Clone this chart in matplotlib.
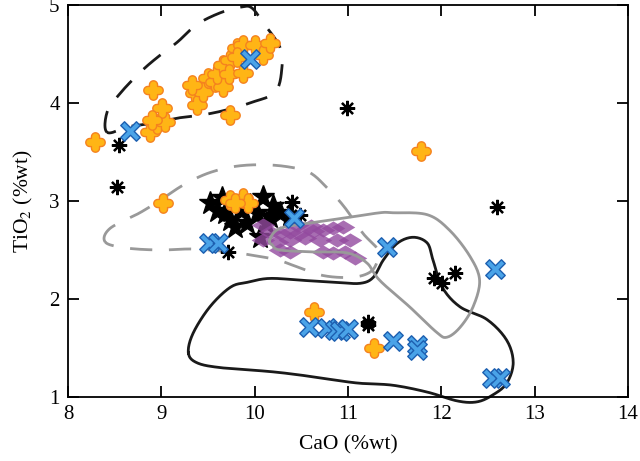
import numpy as np
import matplotlib
matplotlib.use("Agg")
import matplotlib.pyplot as plt
from matplotlib.path import Path

plt.rcParams['font.family'] = ['Liberation Serif', 'DejaVu Serif']
plt.rcParams['mathtext.fontset'] = 'stix'

# ---------------- data ----------------
orange_x = [8.29, 8.88, 8.95, 9.04, 8.91, 9.01, 8.90, 9.36, 9.38, 9.45, 9.50, 9.58, 9.66, 9.60,
            9.66, 9.74, 9.72, 9.81, 9.88, 10.00, 10.09, 10.16, 9.88, 9.81, 9.74, 9.33,
            9.74, 9.88, 9.93, 9.79, 9.02, 11.78, 10.64, 11.28]
orange_y = [3.60, 3.70, 3.79, 3.81, 4.13, 3.95, 3.83, 4.10, 3.98, 4.11, 4.26, 4.21, 4.16, 4.30,
            4.39, 4.44, 4.30, 4.56, 4.59, 4.59, 4.49, 4.61, 4.31, 4.47, 3.88, 4.18,
            3.01, 3.03, 2.98, 2.98, 2.98, 3.51, 1.87, 1.50]

blue_x = [8.66, 9.95, 9.51, 9.61, 10.42, 11.42, 12.58, 10.58, 10.77, 10.86, 10.91, 11.00,
          11.48, 11.74, 11.74, 12.54, 12.63]
blue_y = [3.71, 4.45, 2.57, 2.57, 2.83, 2.53, 2.31, 1.71, 1.70, 1.68, 1.67, 1.69,
          1.57, 1.53, 1.48, 1.19, 1.19]

ast_x = [8.55, 8.53, 10.99, 12.60, 10.40, 9.71, 11.92, 12.01, 12.15, 11.21, 11.21, 10.49]
ast_y = [3.57, 3.14, 3.95, 2.94, 2.99, 2.48, 2.21, 2.16, 2.27, 1.77, 1.73, 2.86]

star_x = [9.52, 9.65, 10.09, 9.74, 9.92, 10.06, 10.16, 10.27, 10.38, 10.03, 9.84, 9.68,
          9.95, 9.79, 10.20, 9.60, 10.12]
star_y = [2.98, 3.03, 3.04, 2.81, 2.78, 2.63, 2.84, 2.88, 2.86, 2.88, 2.91, 2.88,
          2.96, 2.73, 2.95, 2.90, 2.78]

purple_x = [10.09, 10.16, 10.27, 10.38, 10.49, 10.63, 10.73, 10.84, 10.95, 11.02, 10.09, 10.24,
            10.38, 10.54, 10.70, 10.27, 10.38, 10.73, 10.84, 10.97, 11.08, 10.45, 10.60, 10.88]
purple_y = [2.76, 2.68, 2.67, 2.68, 2.67, 2.69, 2.70, 2.72, 2.73, 2.60, 2.60, 2.58,
            2.60, 2.62, 2.60, 2.50, 2.48, 2.48, 2.47, 2.48, 2.42, 2.76, 2.74, 2.60]

# field outlines
bdash_x = [8.42, 8.42, 8.56, 8.77, 8.95, 9.17, 9.38, 9.63, 9.86, 9.97, 10.09, 10.27, 10.29,
           10.22, 9.98, 9.70, 9.45, 9.20, 8.95, 8.66, 8.42]
bdash_y = [3.70, 3.91, 4.10, 4.31, 4.46, 4.62, 4.80, 4.92, 4.98, 4.97, 4.82, 4.57, 4.34,
           4.11, 4.01, 3.93, 3.88, 3.85, 3.80, 3.76, 3.70]

gdash_x = [8.40, 8.45, 8.77, 8.99, 9.23, 9.49, 9.77, 10.06, 10.35, 10.59, 10.78, 10.96, 11.16,
           11.32, 11.30, 11.21, 11.02, 10.73, 10.45, 10.24, 9.95, 9.74, 9.34, 8.99, 8.63, 8.40]
gdash_y = [2.58, 2.72, 2.88, 3.01, 3.16, 3.28, 3.35, 3.37, 3.35, 3.29, 3.13, 2.94, 2.67,
           2.50, 2.35, 2.26, 2.22, 2.24, 2.33, 2.40, 2.45, 2.48, 2.51, 2.50, 2.52, 2.58]

gsol_x = [10.16, 10.27, 10.63, 10.99, 11.34, 11.48, 11.85, 12.09, 12.31, 12.41, 12.34, 12.20,
          12.06, 11.95, 11.66, 11.34, 11.20, 10.99, 10.63, 10.27, 10.19, 10.16]
gsol_y = [2.60, 2.72, 2.78, 2.83, 2.88, 2.88, 2.86, 2.70, 2.43, 2.19, 1.92, 1.71,
          1.61, 1.66, 1.92, 2.19, 2.37, 2.47, 2.48, 2.50, 2.55, 2.60]

bsol_x = [9.29, 9.34, 9.52, 9.74, 9.92, 10.16, 10.52, 10.88, 11.13, 11.27, 11.38, 11.53, 11.70,
          11.85, 11.91, 12.01, 12.20, 12.49, 12.70, 12.77, 12.70, 12.55, 12.38, 12.17, 11.85,
          11.48, 11.13, 10.88, 10.52, 10.16, 9.63, 9.38, 9.29]
bsol_y = [1.45, 1.65, 1.92, 2.12, 2.17, 2.21, 2.19, 2.17, 2.16, 2.22, 2.40, 2.57, 2.63,
          2.57, 2.40, 2.12, 1.92, 1.79, 1.58, 1.35, 1.14, 1.02, 0.95, 0.96, 1.05,
          1.12, 1.14, 1.17, 1.22, 1.26, 1.30, 1.35, 1.45]


def smooth_closed(xs, ys, n=12):
    p = np.column_stack([xs[:-1], ys[:-1]])
    m = len(p)
    out = []
    for i in range(m):
        p0, p1, p2, p3 = p[(i - 1) % m], p[i], p[(i + 1) % m], p[(i + 2) % m]
        t = np.linspace(0, 1, n, endpoint=False)[:, None]
        seg = 0.5 * ((2 * p1) + (-p0 + p2) * t + (2 * p0 - 5 * p1 + 4 * p2 - p3) * t ** 2
                     + (-p0 + 3 * p1 - 3 * p2 + p3) * t ** 3)
        out.append(seg)
    out.append(p[:1])
    arr = np.vstack(out)
    return arr[:, 0], arr[:, 1]


def plus_path(a, rounded=False, rot=0.0):
    verts = []
    L = 0.5
    for k in range(4):
        ang = -k * np.pi / 2
        c, s = np.cos(ang), np.sin(ang)
        pts = [(-a, a)]
        if rounded:
            cy = L - a
            pts.append((-a, cy))
            th = np.linspace(np.pi, 0, 11)
            pts += [(a * np.cos(t), cy + a * np.sin(t)) for t in th]
        else:
            pts += [(-a, L), (a, L)]
        for (x, y) in pts:
            verts.append((x * c - y * s, x * s + y * c))
    verts = np.array(verts)
    r = np.deg2rad(rot)
    R = np.array([[np.cos(r), -np.sin(r)], [np.sin(r), np.cos(r)]])
    verts = verts @ R.T
    verts = np.vstack([verts, verts[:1]])
    return Path(verts, closed=True)


xmark = plus_path(0.12, rounded=False, rot=45)
pmark = plus_path(0.21, rounded=True)
dmark = Path([(0.5, 0), (0, 0.3), (-0.5, 0), (0, -0.3), (0.5, 0)], closed=True)

fig = plt.figure(figsize=(6.4, 4.61), dpi=100)
ax = fig.add_axes([68 / 640, 1 - 397 / 461, 560 / 640, 392 / 461])

sx, sy = smooth_closed(bdash_x, bdash_y)
ax.plot(sx, sy, color='#1a1a1a', lw=2.0, dashes=(8, 6), zorder=2)
sx, sy = smooth_closed(gdash_x, gdash_y)
ax.plot(sx, sy, color='#999999', lw=2.0, dashes=(8, 6), zorder=2)
sx, sy = smooth_closed(gsol_x, gsol_y)
ax.plot(sx, sy, color='#999999', lw=2.0, zorder=4)
sx, sy = smooth_closed(bsol_x, bsol_y)
ax.plot(sx, sy, color='#1a1a1a', lw=2.0, zorder=2, clip_on=False)

ax.plot(star_x, star_y, ls='none', marker='*', ms=17, mfc='black', mec='black', zorder=2.5)
ax.plot(purple_x, purple_y, ls='none', marker=dmark, ms=17, mfc='#934a9f', mec='none',
        alpha=0.8, zorder=3)
ax.plot(ast_x, ast_y, ls='none', marker=(8, 2, 0), ms=11, mec='black', mew=1.6, zorder=5)
ax.plot(orange_x, orange_y, ls='none', marker=pmark, ms=14, mfc='#ffb515', mec='#f5821f',
        mew=1.0, zorder=5)
ax.plot(blue_x, blue_y, ls='none', marker=xmark, ms=14, mfc='#4aa3e8', mec='#1d5fb0',
        mew=1.0, zorder=6)

ax.set_xlim(8, 14)
ax.set_ylim(1, 5)
ax.set_xticks([8, 9, 10, 11, 12, 13, 14])
ax.set_yticks([1, 2, 3, 4, 5])
ax.tick_params(direction='in', top=True, right=True, length=8, width=1.3,
               labelsize=15, pad=6)
for s in ax.spines.values():
    s.set_linewidth(1.3)
ax.set_xlabel('CaO (%wt)', fontsize=15.5, labelpad=8)
ax.set_ylabel('TiO$_2$ (%wt)', fontsize=15.5, labelpad=10)

fig.savefig('out.png', dpi=100)
